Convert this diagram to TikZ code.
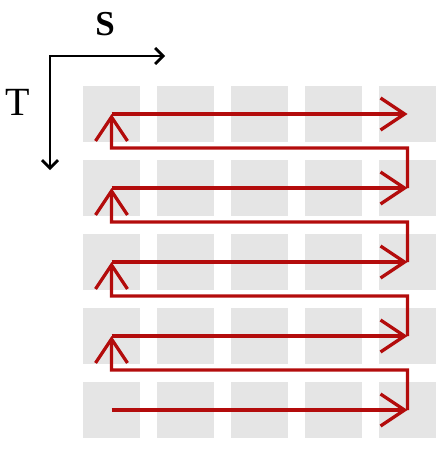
\documentclass[tikz,border=0pt]{standalone}
\usepackage{fontspec}
\setmainfont{Liberation Serif}
\usetikzlibrary{arrows.meta,calc}
\usepackage{xcolor}
\definecolor{cellgray}{HTML}{E5E5E5}
\definecolor{scanred}{HTML}{B30C0C}
\tikzset{
  cell/.style={fill=cellgray, minimum width=57pt, minimum height=56pt, inner sep=0pt},
  axis/.style={{Straight Barb[length=8pt,width=16pt]}-{Straight Barb[length=8pt,width=16pt]}, line width=2.8pt, draw=black},
  scan/.style={-{Straight Barb[length=24pt,width=32pt]}, line width=3.3pt, draw=scanred},
  lab/.style={inner sep=0pt, font=\fontsize{40}{40}\selectfont}
}
\begin{document}
\begin{tikzpicture}[x=1pt, y=-1pt]
  \useasboundingbox (0,0) rectangle (443,450);
  % grid of cells
  \foreach \r in {1,...,5}
    \foreach \c in {1,...,5}
      \node[cell] (c-\r-\c) at ({111.5+74*(\c-1)}, {114+74*(\r-1)}) {};
  % axes
  \coordinate (o) at (50,56);
  \coordinate (s) at (165,56);
  \coordinate (t) at (50,170);
  \draw[axis] (s) -- (o) -- (t);
  \node[lab, font=\fontsize{35}{35}\selectfont\bfseries] (slab) at (105,24) {S};
  \node[lab] (tlab) at (18,102) {T};
  % scan order
  \foreach \r in {1,...,5}
    \draw[scan] (c-\r-1.center) -- (c-\r-5.center);
  \foreach \r [evaluate=\r as \p using int(\r-1)] in {2,...,5} {
    \coordinate (m-\r) at ($(c-\r-1.center)!0.54!(c-\p-1.center)$);
    \draw[scan] (c-\r-5.center) |- (m-\r) -- (c-\p-1.center);
  }
\end{tikzpicture}
\end{document}
